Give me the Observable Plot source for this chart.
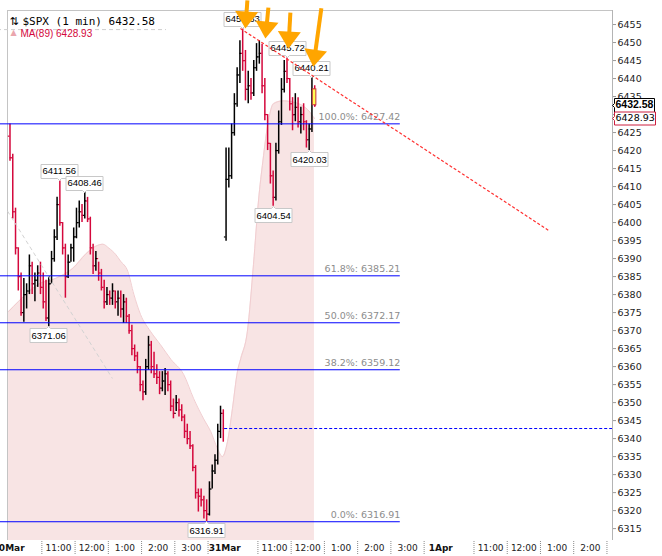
<!DOCTYPE html>
<html><head><meta charset="utf-8">
<script src="https://cdn.jsdelivr.net/npm/d3@7"></script>
<script src="https://cdn.jsdelivr.net/npm/@observablehq/plot@0.6"></script>
<style>
html,body{margin:0;padding:0;background:#fff;}
#chart{width:662px;height:556px;overflow:hidden;position:relative;}
svg{display:block;}
</style></head><body><div id="chart"></div>
<script>
// ---- 30 Mar, 5-minute summaries of the 1-minute bars ----
const day1High = [6427.4,6419,6404,6393,6386,6384.5,6383,6391,6389,6386,
  6388,6389,6386,6384,6385,6392,6398,6407,6411.56,6400,
  6394,6391,6394,6398.5,6404,6406,6405,6408.46,6407,6401.5,
  6394,6392,6389,6387,6384,6382,6381,6383,6381,6381,
  6381,6380,6379,6374.5,6371.5,6366,6364,6360,6356,6362,
  6368.4,6367,6364,6360.5,6358.6,6358.6,6359.5,6358.6,6356,6351,
  6352,6351,6349.4,6346.6,6344,6342,6338.3,6332.5,6326,6326,
  6324,6323,6328,6332.7,6335.5,6344,6349,6348];
const day1Low = [6417,6401,6391,6381,6374,6372.3,6376,6380,6380,6378,
  6382,6380,6376,6372.5,6371.06,6383,6389,6395,6399,6391,
  6379,6384.5,6389,6389,6395.5,6398.5,6400,6401,6400,6391,
  6385.6,6386.5,6383.7,6381,6376,6377,6377,6377,6376,6374,
  6373.5,6372,6372,6369,6363,6361.4,6358,6353,6350.5,6352,
  6359,6358,6356.7,6355,6352.2,6353,6352,6353,6347.5,6345.5,
  6347.5,6346,6344.7,6340,6338.3,6337,6330.8,6323.2,6319.6,6321,
  6317.7,6316.91,6318.5,6326,6330,6332.7,6340,6339];
const day1Close = [6418,6403,6393,6385,6375,6380,6381,6388,6383,6384,
  6386,6382,6378,6373.5,6383,6390,6396,6405,6400,6393,
  6385,6389,6393,6396,6400,6403,6402,6406,6401,6393,
  6388,6390,6386,6382,6378,6380,6379,6381,6378,6379,
  6376,6378,6374,6370,6365,6363,6360,6355,6353,6360,
  6366,6360,6358,6357,6354,6356,6358,6355,6349,6347,
  6350,6348,6346,6342,6340,6338,6332,6325,6324,6323,
  6320,6319,6326,6331,6334,6342,6347,6342.8];
// ---- 31 Mar ----
const day2High = [6420.7,6420.7,6427.4,6435.8,6443,6450.5,6453.83,6447.8,6442,6440,
  6445,6449.7,6450.5,6449.5,6440,6430,6422,6414.3,6422,6431,
  6440,6445,6445.72,6440,6434.7,6435.8,6434.7,6432,6433,6428.3,
  6427.4,6440.21,6438];
const day2Low = [6394.8,6409.6,6412,6424,6432,6438.6,6442,6433.8,6433,6434,
  6435,6442,6444,6435.8,6428.3,6420,6410.7,6404.54,6406,6419,
  6427,6436,6438.6,6431,6425.5,6428,6426.3,6424.6,6425.5,6420.7,
  6420.03,6425,6432];
const day2Close = [6412,6413,6425,6433,6441,6447,6445,6437,6438,6436,
  6443,6446,6447,6438,6430,6422,6413,6407,6420,6428,
  6437,6442,6440,6433,6430,6432,6428,6430,6428,6423,
  6426,6437,6432.58];
const sessionOpen = [6424, 6396];

// ---- MA(89), read along the pink area edge (minute of trading time, value) ----
const maMinute = [0,18,54,85,116,139,157,170,181,193,202,215,226,238,256,274,293,316,334,352,365,377,386,395,404,413,419,431,442,451,459,469,478,495,518,542,552];
const maValue = [6375.3,6378.1,6382.9,6384.5,6387.3,6391.2,6393.4,6394.0,6392.9,6391.2,6389.3,6386.5,6380.1,6374.5,6369.8,6366.1,6362.0,6357.8,6351.1,6345.5,6341.9,6337.2,6335.0,6339.1,6348.3,6358.6,6362.2,6369.8,6388.4,6406.0,6417.1,6428.3,6433.0,6433.8,6433.3,6431.0,6428.93];

// ---- Fibonacci retracement ----
const fibPct = ["0.0%","38.2%","50.0%","61.8%","100.0%"];
const fibValue = [6316.91,6359.12,6372.17,6385.21,6427.42];

// ---- labelled swing points ----
const peakDay  = [1,1,1,1,2,2,2,2,2];
const peakBar  = [18,27,14,71,6,22,31,30,17];
const peakSide = ["high","high","low","low","high","high","high","low","low"];

// ---- trend lines (minute, price) ----
const redTrend = [[418.4,6453.9],[974,6397.9]];
const greyTrend = [[-2,6403.2],[187.4,6356.7]];
const greyLevel = {value: 6453.6, from: -20, to: 285};

// ---- orange arrows: tail and tip (minute, price) ----
const arrowTail = [[431,6461.7],[468.9,6459.7],[508.6,6458.3],[564.5,6459.5]];
const arrowTip  = [[427.4,6453.9],[463.5,6451.1],[505,6448.3],[550,6443.3]];

// ---- time axis labels ----
const hourLabelText = ["11:00","12:00","1:00","2:00","3:00","11:00","12:00","1:00","2:00","3:00","11:00","12:00","1:00","2:00"];
const hourLabelMin  = [90,150,210,270,330,480,540,600,660,720,870,930,990,1050];
const dateLabelText = ["30Mar","31Mar","1Apr"];
const dateLabelMin  = [0,390,780];
const halfHourMin = [60,120,180,240,300,360,450,510,570,630,690,750,840,900,960,1020,1080];
const yTicks = d3.range(6315, 6456, 5);

// ---------------- layout ----------------
const W = 662, H = 556, mL = 7, mR = 50, mT = 10, mB = 16;
const xDomain = [-2, 1090];
const yDomain = [6311.7, 6458.9];
const kx = (W - mL - mR) / (xDomain[1] - xDomain[0]);
const ky = (H - mT - mB) / (yDomain[1] - yDomain[0]);
const UP = "#000000", DOWN = "#d4083c", ORANGE = "#ffa500";

const days = [[day1High, day1Low, day1Close],[day2High, day2Low, day2Close]];
const bars = [];
days.forEach(([hi, lo, cl], d) => {
  hi.forEach((h, i) => {
    const o = i === 0 ? sessionOpen[d] : cl[i-1];
    bars.push({m: d*390 + i*5 + 2.5, open: o, high: h, low: lo[i], close: cl[i],
               color: cl[i] >= o ? UP : DOWN});
  });
});
const lastBar = bars[bars.length - 1];
const lastPrice = lastBar.close;
const maLast = maValue[maValue.length - 1];

const ma = maMinute.map((m, i) => ({m, v: maValue[i]}));
const peaks = peakDay.map((d, k) => {
  const [hi, lo] = days[d-1];
  const i = peakBar[k];
  const v = peakSide[k] === "high" ? hi[i] : lo[i];
  return {m: (d-1)*390 + i*5 + 2.5, v, side: peakSide[k], label: v.toFixed(2)};
});
const arrows = arrowTail.map((t, i) => {
  const tip = arrowTip[i];
  const dxp = (tip[0]-t[0])*kx, dyp = (t[1]-tip[1])*ky;
  const len = Math.hypot(dxp, dyp);
  const f = 12 / len;
  return {topM: t[0], topP: t[1], tipM: tip[0], tipP: tip[1],
          baseM: tip[0] + (t[0]-tip[0])*f, baseP: tip[1] + (t[1]-tip[1])*f,
          rot: Math.atan2(-dxp, dyp) * 180 / Math.PI};
});
const headSymbol = {draw(ctx){ ctx.moveTo(0,0); ctx.lineTo(-11.5,-17); ctx.lineTo(11.5,-17); ctx.closePath(); }};

const hasTip = typeof Plot.tip === "function";
function label(data, opts) {
  if (hasTip) {
    return Plot.tip(data, {pointerSize: 4, textPadding: 1.5, fill: "white", pathFilter: "none", ...opts});
  }
  const {anchor, title, textPadding, ...rest} = opts;
  const dy = anchor === "bottom" ? -10 : anchor === "top" ? 10 : 0;
  const dx = anchor === "left" ? 24 : 0;
  return Plot.text(data, {...rest, text: title, dy, dx, fill: "black", stroke: "white", strokeWidth: 3});
}

const chart = Plot.plot({
  width: W, height: H,
  marginLeft: mL, marginRight: mR, marginTop: mT, marginBottom: mB,
  x: {domain: xDomain, axis: null},
  y: {domain: yDomain, axis: null},
  style: {fontFamily: "DejaVu Sans", fontSize: "9.5px", background: "white", overflow: "visible"},
  marks: [
    Plot.areaY(ma, {x: "m", y1: yDomain[0], y2: "v", fill: "#f8e4e4", curve: "monotone-x"}),
    Plot.line(ma, {x: "m", y: "v", stroke: "#f1cdd0", strokeWidth: 1, curve: "monotone-x"}),
    Plot.ruleY([yDomain[1]], {stroke: "#c4c4c4"}),
    Plot.ruleX([xDomain[0]], {stroke: "#c4c4c4"}),
    Plot.ruleX([xDomain[1]], {stroke: "#b4b4b4"}),
    Plot.ruleX(halfHourMin, {x: d => d, y1: yDomain[0] - 1/ky, y2: yDomain[0] - 14/ky, stroke: "#8a8a8a", strokeDasharray: "1,1"}),
    Plot.ruleX(bars, {x: "m", y1: "low", y2: "high", stroke: "color", strokeWidth: 1.5}),
    Plot.ruleY(bars, {y: "open", x1: d => d.m - 3, x2: "m", stroke: "color", strokeWidth: 1.2}),
    Plot.ruleY(bars, {y: "close", x1: "m", x2: d => d.m + 3, stroke: "color", strokeWidth: 1.2}),
    Plot.rect([lastBar], {x1: d => d.m - 3.5, x2: d => d.m + 3, y1: "open", y2: "close", fill: "#ffff55", stroke: "#c8363c", strokeWidth: 1}),
    Plot.ruleY(fibValue, {y: d => d, x1: -20, x2: 707, stroke: "#0000ff", strokeWidth: 1}),
    Plot.text(fibValue, {x: 707, y: d => d, text: (d, i) => `${fibPct[i]}: ${d.toFixed(2)}`, textAnchor: "end", dy: -7, fill: "#8c8c8c", fontSize: 9.5, fontFamily: "DejaVu Sans"}),
    Plot.ruleY([day1Close[day1Close.length-1]], {y: d => d, x1: 390, x2: xDomain[1], stroke: "#0000ff", strokeDasharray: "3,2"}),
    Plot.ruleY([greyLevel], {y: "value", x1: "from", x2: "to", stroke: "#cfcfcf", strokeDasharray: "4,3"}),
    Plot.link([greyTrend], {x1: d => d[0][0], y1: d => d[0][1], x2: d => d[1][0], y2: d => d[1][1], stroke: "#d2d2d2", strokeDasharray: "4,3"}),
    label(peaks.filter(d => d.side === "high"), {x: "m", y: "v", title: "label", anchor: "bottom", stroke: "#c8c8c8", fontSize: 9.5, fontFamily: "Liberation Sans"}),
    label(peaks.filter(d => d.side === "low"), {x: "m", y: "v", title: "label", anchor: "top", stroke: "#c8c8c8", fontSize: 9.5, fontFamily: "Liberation Sans"}),
    Plot.link([redTrend], {x1: d => d[0][0], y1: d => d[0][1], x2: d => d[1][0], y2: d => d[1][1], stroke: "#ff3030", strokeWidth: 1.2, strokeDasharray: "3,2"}),
    Plot.link(arrows, {x1: "topM", y1: "topP", x2: "baseM", y2: "baseP", stroke: ORANGE, strokeWidth: 4}),
    Plot.dot(arrows, {x: "tipM", y: "tipP", symbol: headSymbol, r: 5, fill: ORANGE, stroke: "none", rotate: "rot"}),
    Plot.text(["⇅"], {text: d => d, frameAnchor: "top-left", dx: 2, dy: 7, textAnchor: "start", fontSize: 11, fontFamily: "DejaVu Sans", fill: "#000"}),
    Plot.text([`$SPX (1 min) ${lastPrice.toFixed(2)}`], {text: d => d, frameAnchor: "top-left", dx: 15, dy: 7, textAnchor: "start", fontSize: 11, fontFamily: "DejaVu Sans Mono", fill: "#000"}),
    Plot.text(["▲"], {text: d => d, frameAnchor: "top-left", dx: 3, dy: 19, textAnchor: "start", fontSize: 8, fontFamily: "DejaVu Sans", fill: "#eaa6ae"}),
    Plot.text([`MA(89) ${maLast.toFixed(2)}`], {text: d => d, frameAnchor: "top-left", dx: 13, dy: 19, textAnchor: "start", fontSize: 10, fontFamily: "Liberation Sans", fill: "#d4083c"}),
    Plot.axisY({anchor: "right", ticks: yTicks, tickSize: 3, tickPadding: 2, tickFormat: d => String(d), fontSize: 9.5, fontFamily: "DejaVu Sans", fill: "#222", stroke: "#999"}),
    Plot.text(hourLabelMin, {x: d => d, text: (d, i) => hourLabelText[i], frameAnchor: "bottom", dy: 10, fontSize: 9, fontFamily: "DejaVu Sans", fill: "#222"}),
    Plot.text(dateLabelMin, {x: d => d, text: (d, i) => dateLabelText[i], frameAnchor: "bottom", dy: 10, fontSize: 9, fontWeight: "bold", fontFamily: "DejaVu Sans", fill: "#111"}),
    label([{m: xDomain[1], v: lastPrice, t: lastPrice.toFixed(2)}], {x: "m", y: "v", title: "t", anchor: "left", textPadding: 1, stroke: "#000", fontSize: 10.5, fontWeight: "bold", fontFamily: "Liberation Sans"}),
    label([{m: xDomain[1], v: maLast, t: maLast.toFixed(2)}], {x: "m", y: "v", title: "t", anchor: "left", textPadding: 1, stroke: "#cc1f3f", fontSize: 9.5, fontFamily: "DejaVu Sans"})
  ]
});
document.getElementById("chart").appendChild(chart);
</script>
</body></html>
